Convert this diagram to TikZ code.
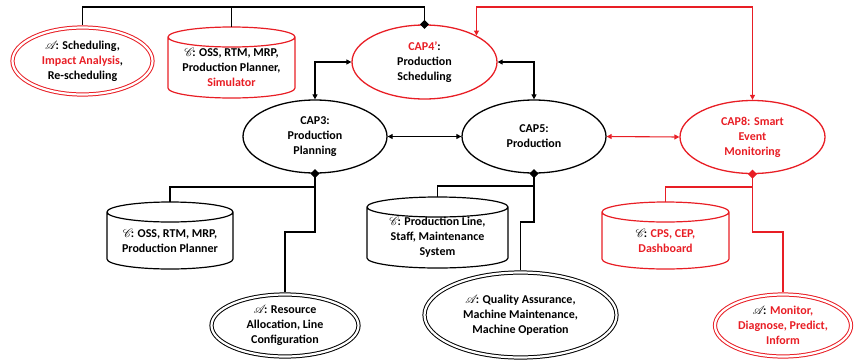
\documentclass[tikz,border=0pt]{standalone}
\usepackage{fontspec}
\setmainfont{Carlito}
\usepackage{mathrsfs}
\usetikzlibrary{shapes.geometric,arrows.meta,calc}
\definecolor{mred}{RGB}{232,30,37}
\newcommand\scrA{{\color{black}$\mathscr{A}\mkern-3mu$}}
\newcommand\scrC{{\color{black}$\mathscr{C}\mkern-3mu$}}
% outline of a data store drawn round a rectangular node
\newcommand\cylinder[2]{%
  \draw[#2, line width=1.2pt] let \p1=(#1.north west), \p2=(#1.south east),
    \n1={(\x2-\x1)/2} in
    (\x1,\y1-10pt) -- (\x1,\y2+10pt)
    arc[start angle=180, end angle=360, x radius=\n1, y radius=10pt]
    -- (\x2,\y1-10pt)
    (\x1+\n1,\y1-10pt) ellipse[x radius=\n1, y radius=10pt];}
\begin{document}
\begin{tikzpicture}[x=1pt, y=-1pt,
  font=\bfseries\fontsize{12}{15}\selectfont,
  capnode/.style={ellipse, draw, line width=1.3pt, inner sep=0pt, align=center},
  actnode/.style={ellipse, draw, double=white, double distance=2.2pt, line width=1pt,
    inner sep=0pt, outer sep=2.1pt, align=center},
  cylbox/.style={rectangle, inner sep=0pt, outer sep=0pt},
  cyltext/.style={align=center, inner sep=0pt},
  link/.style={line width=1.1pt},
  dual/.style={link, {Triangle[length=5pt,width=5pt]}-{Triangle[length=5pt,width=5pt]}},
  hub/.style={link, {Diamond[length=9pt,width=9pt]}-, shorten <=-4.5pt}]
\useasboundingbox (0,0) rectangle (854,362);

% capabilities
\node[capnode, draw=mred, minimum width=145pt, minimum height=74pt] (cap4) at (424.5,62)
  {\textcolor{mred}{CAP4’}:\\Production\\Scheduling};
\node[capnode, minimum width=144pt, minimum height=73pt] (cap3) at (315,136.5)
  {CAP3:\\Production\\Planning};
\node[capnode, minimum width=144pt, minimum height=73pt] (cap5) at (534,136.5)
  {CAP5:\\Production};
\node[capnode, draw=mred, text=mred, minimum width=145pt, minimum height=73pt] (cap8) at (752.5,137)
  {CAP8: Smart\\Event\\Monitoring};

% activities
\node[actnode, draw=mred, minimum width=140pt, minimum height=67pt] (as1) at (82.5,61)
  {\scrA: Scheduling,\\\textcolor{mred}{Impact Analysis},\\Re-scheduling};
\node[actnode, minimum width=147pt, minimum height=62pt] (as3) at (285,325.5)
  {\scrA: Resource\\Allocation, Line\\Configuration};
\node[actnode, minimum width=192pt, minimum height=85pt] (as5) at (520.5,315)
  {\scrA: Quality Assurance,\\Machine Maintenance,\\Machine Operation};
\node[actnode, draw=mred, minimum width=136pt, minimum height=62pt] (as8) at (783,325.5)
  {\scrA: \textcolor{mred}{Monitor,}\\\textcolor{mred}{Diagnose, Predict,}\\\textcolor{mred}{Inform}};

% data stores
\node[cylbox, minimum width=127pt, minimum height=71pt] (cs1) at (231.5,62.5) {};
\node[cyltext] (cs1t) at ([yshift=-5pt]cs1.center)
  {\scrC: OSS, RTM, MRP,\\Production Planner,\\\textcolor{mred}{Simulator}};
\cylinder{cs1}{mred}
\node[cylbox, minimum width=126pt, minimum height=67pt] (cs3) at (170,235.5) {};
\node[cyltext] (cs3t) at ([yshift=-5pt]cs3.center)
  {\scrC: OSS, RTM, MRP,\\Production Planner};
\cylinder{cs3}{black}
\node[cylbox, minimum width=141pt, minimum height=71pt] (cs5) at (437.5,232.5) {};
\node[cyltext] (cs5t) at ([yshift=-5pt]cs5.center)
  {\scrC: Production Line,\\Staff, Maintenance\\System};
\cylinder{cs5}{black}
\node[cylbox, minimum width=127pt, minimum height=67pt] (cs8) at (665.5,235.5) {};
\node[cyltext] (cs8t) at ([yshift=-5pt]cs8.center)
  {\scrC: \textcolor{mred}{CPS, CEP,}\\\textcolor{mred}{Dashboard}};
\cylinder{cs8}{mred}

% upper connectors
\coordinate (top) at (0,7);
\draw[hub] (cap4.north) -- (cap4.north |- top) -| (as1.north);
\draw[link] (cs1.north |- top) -- (cs1.north);
\draw[dual] (cap4.west) -| (cap3.north);
\draw[dual] (cap4.east) -| (cap5.north);
\draw[dual] (cap3.east) -- (cap5.west);
\draw[dual, mred] (cap5.east) -- (cap8.west);
\draw[dual, mred] (cap4.27) -- (cap4.27 |- top) -| (cap8.north);

% lower connectors
\coordinate (r3) at (0,187);
\coordinate (s3) at (0,232);
\draw[hub] (cap3.south) -- (cap3.south |- s3) -| (as3.north);
\draw[link] (cap3.south |- r3) -| (cs3.north);
\coordinate (r5) at (0,186);
\coordinate (s5) at (0,222);
\draw[hub] (cap5.south) -- (cap5.south |- s5) -| (as5.north);
\draw[link] (cap5.south |- r5) -| (cs5.north);
\coordinate (r8) at (0,187);
\coordinate (s8) at (0,232);
\draw[hub, mred] (cap8.south) -- (cap8.south |- s8) -| (as8.north);
\draw[link, mred] (cap8.south |- r8) -| (cs8.north);
\end{tikzpicture}
\end{document}
